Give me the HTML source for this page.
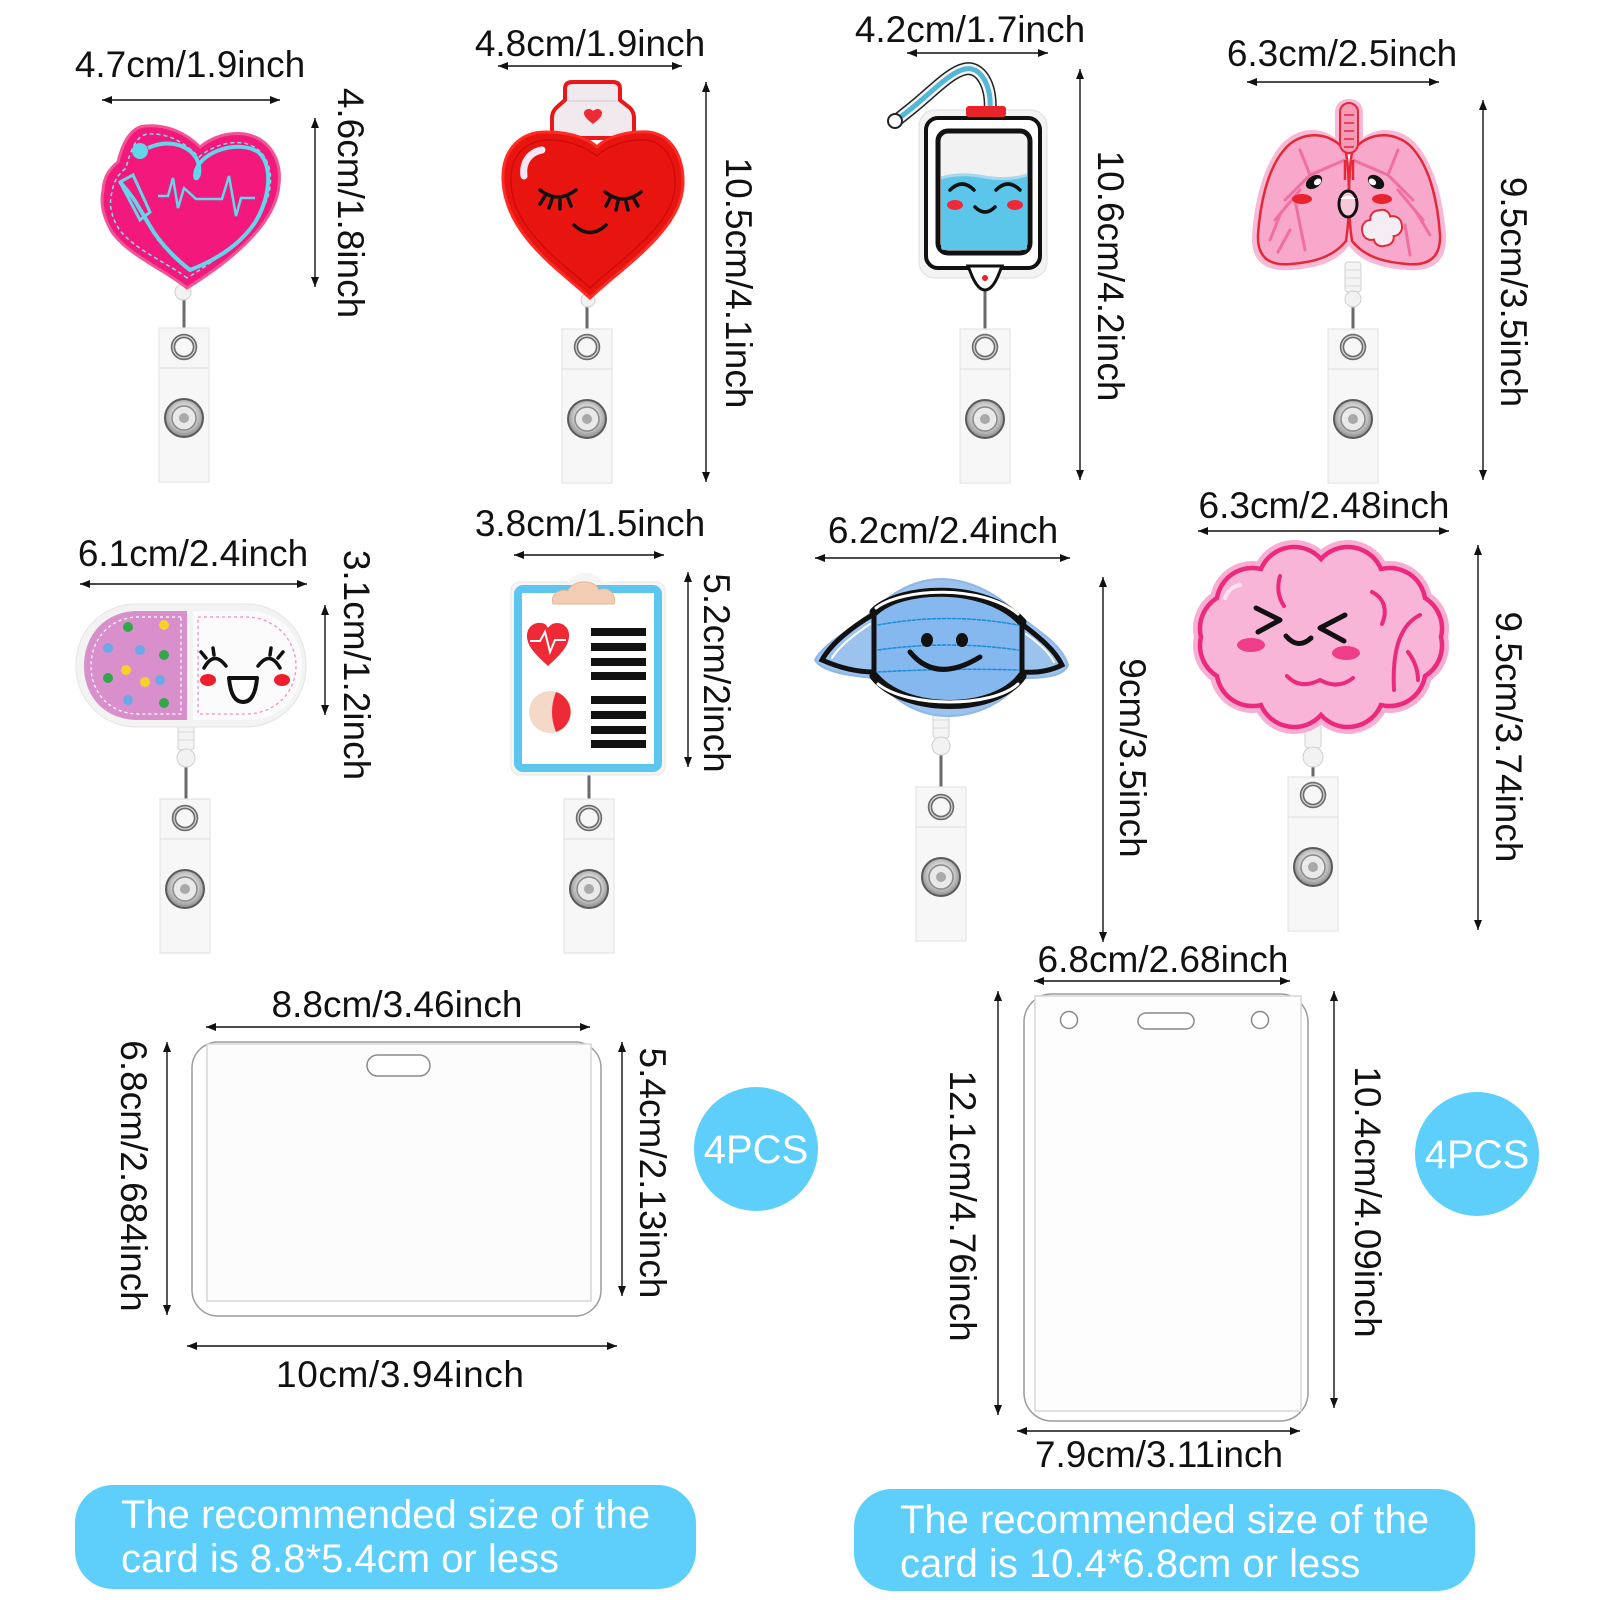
<!DOCTYPE html>
<html><head><meta charset="utf-8">
<style>
html,body{margin:0;padding:0;background:#fff;}
svg{display:block;}
.d{font-family:"Liberation Sans",Arial,sans-serif;font-size:37px;fill:#111;}
.w{font-family:"Liberation Sans",Arial,sans-serif;font-size:40px;fill:#fff;}
.ln{stroke:#111;stroke-width:1.4;fill:none;marker-start:url(#ar);marker-end:url(#ar);}
</style></head>
<body>
<svg width="1600" height="1600" viewBox="0 0 1600 1600" xmlns="http://www.w3.org/2000/svg">
<defs>
<marker id="ar" viewBox="0 0 10 8" refX="10" refY="4" markerWidth="10" markerHeight="8" markerUnits="userSpaceOnUse" orient="auto-start-reverse"><path d="M0,0 L10,4 L0,8 Z" fill="#111"/></marker>
<radialGradient id="snap" cx="50%" cy="45%" r="55%"><stop offset="0" stop-color="#f4f4f4"/><stop offset="0.6" stop-color="#cfcfcf"/><stop offset="1" stop-color="#8a8a8a"/></radialGradient>
<g id="clip">
<rect x="-25" y="0" width="50" height="154" fill="#f7f7f7" stroke="#e4e4e4" stroke-width="1.2"/>
<line x1="-25" y1="40" x2="25" y2="40" stroke="#e2e2e2" stroke-width="1.2"/>
<circle cx="0" cy="90" r="19" fill="url(#snap)" stroke="#5a5a5a" stroke-width="2"/>
<circle cx="0" cy="90" r="12" fill="#e9e9e9" stroke="#8a8a8a" stroke-width="1.5"/>
<circle cx="0" cy="90" r="5" fill="#a9a9a9"/>
</g>
<g id="ring">
<circle cx="0" cy="0" r="11" fill="none" stroke="#6d6d6d" stroke-width="4.5"/>
<circle cx="0" cy="0" r="11" fill="none" stroke="#d8d8d8" stroke-width="1.2"/>
</g>
</defs>

<!-- ===================== ROW 1 ===================== -->
<!-- Badge 1 : pink heart -->
<line x1="184" y1="292" x2="184" y2="340" stroke="#6a6a6a" stroke-width="3"/>
<use href="#clip" x="184" y="328"/>
<use href="#ring" x="184" y="347"/>
<circle cx="183" cy="292" r="8" fill="#f2f2f2" stroke="#cfcfcf"/>
<path d="M187,288 C165,270 128,255 112,232 C104,218 100,205 103,190 C104,178 108,170 118,162 C122,145 130,127 145,126 C165,124 185,132 200,147 C212,137 228,132 245,134 C268,138 282,158 279,185 C276,220 240,255 187,288 Z" fill="#f2187c" stroke="#f25595" stroke-width="3"/>
<path d="M187,278 C168,263 133,249 119,229 C110,215 109,202 112,192 C114,180 118,175 126,168 C130,152 136,135 148,134 C166,133 182,140 199,157 C212,146 228,141 244,143 C263,147 273,165 270,187 C266,218 235,249 187,278 Z" fill="none" stroke="#7fe0ef" stroke-width="1.5" stroke-dasharray="4 3"/>
<path d="M148,148 C170,138 192,146 198,162 C203,178 192,185 196,170 C203,150 240,140 258,152 C274,165 270,200 254,224 C236,250 206,264 190,270 C172,256 158,240 150,226 L138,206 C132,195 125,188 120,182" fill="none" stroke="#62d6ea" stroke-width="4"/>
<path d="M120,182 L133,175 L150,212 L140,220 Z" fill="none" stroke="#62d6ea" stroke-width="3"/>
<circle cx="140" cy="151" r="8" fill="#62d6ea"/>
<path d="M158,196 L168,196 L173,178 L178,208 L184,188 L196,199 L222,199 L229,176 L236,216 L241,198 L255,198" fill="none" stroke="#62d6ea" stroke-width="2.5"/>
<line class="ln" x1="102" y1="100" x2="280" y2="100"/>
<line class="ln" x1="315" y1="118" x2="315" y2="287"/>
<text class="d" x="190" y="77" text-anchor="middle">4.7cm/1.9inch</text>
<text class="d" transform="translate(338,203) rotate(90)" text-anchor="middle">4.6cm/1.8inch</text>

<!-- Badge 2 : red heart -->
<line x1="587" y1="298" x2="587" y2="340" stroke="#6a6a6a" stroke-width="3"/>
<use href="#clip" x="587" y="329"/>
<use href="#ring" x="587" y="347"/>
<circle cx="588" cy="300" r="7" fill="#f2f2f2" stroke="#cfcfcf"/>
<path d="M572,82 L613,82 Q620,82 620,89 L620,100 L630,108 Q634,112 634,118 L634,138 L552,138 L552,118 Q552,112 556,108 L565,100 L565,89 Q565,82 572,82 Z" fill="#f0eaef" stroke="#e8181a" stroke-width="4"/>
<path d="M568,101 L617,101" stroke="#d9d2d8" stroke-width="1.5"/>
<path d="M593,124 C588,120 584,117 584,113 C584,110 587,109 589,109 C591,109 592,110 593,111 C594,110 596,109 598,109 C600,109 602,111 602,113 C602,117 598,120 593,124 Z" fill="#ee2a36"/>
<path d="M590,298 C560,270 505,235 503,180 C502,150 520,131 548,132 C572,132 590,140 597,147 C605,138 625,131 648,132 C670,134 684,155 683,185 C681,230 625,265 590,298 Z" fill="#e81410" stroke="#ff2b24" stroke-width="3"/>
<path d="M590,288 C563,263 512,230 511,182 C510,155 526,140 549,140 C570,140 586,148 597,156 C607,146 626,139 646,140 C664,142 676,160 675,186 C673,226 622,258 590,288 Z" fill="none" stroke="#c80a0a" stroke-width="1.2"/>
<path d="M524,176 C522,162 530,152 542,150" fill="none" stroke="#f4e6f2" stroke-width="7" stroke-linecap="round"/>
<g fill="none" stroke="#111" stroke-width="3.5" stroke-linecap="round">
<path d="M540,190 Q558,204 576,190"/>
<path d="M545,196 L540,204 M552,199 L549,208 M560,200 L560,209 M568,198 L571,206"/>
<path d="M605,192 Q623,206 641,192"/>
<path d="M610,198 L606,206 M618,201 L616,210 M626,202 L628,210 M634,199 L638,206"/>
<path d="M574,225 Q590,240 606,225"/>
</g>
<line class="ln" x1="498" y1="66" x2="682" y2="66"/>
<line class="ln" x1="706" y1="82" x2="706" y2="482"/>
<text class="d" x="590" y="56" text-anchor="middle">4.8cm/1.9inch</text>
<text class="d" transform="translate(726,283) rotate(90)" text-anchor="middle">10.5cm/4.1inch</text>

<!-- Badge 3 : IV bag -->
<line x1="985" y1="290" x2="985" y2="340" stroke="#6a6a6a" stroke-width="3"/>
<use href="#clip" x="985" y="329"/>
<use href="#ring" x="985" y="347"/>
<path d="M990,112 C992,84 980,66 965,69 C950,72 932,92 912,108 L897,120" fill="none" stroke="#222" stroke-width="13" stroke-linecap="round"/>
<path d="M990,112 C992,84 980,66 965,69 C950,72 932,92 912,108 L897,120" fill="none" stroke="#f4f4f4" stroke-width="10" stroke-linecap="round"/>
<path d="M990,112 C992,84 980,66 965,69 C950,72 932,92 912,108 L897,120" fill="none" stroke="#52b8d6" stroke-width="5"/>
<circle cx="895" cy="121" r="7" fill="#fff" stroke="#222" stroke-width="2"/>
<rect x="919" y="110" width="128" height="168" rx="16" fill="#f3f3f3" stroke="#dedede"/>
<rect x="926" y="118" width="114" height="150" rx="12" fill="#fff" stroke="#111" stroke-width="4"/>
<rect x="966" y="106" width="40" height="11" rx="3" fill="#e8242a"/>
<rect x="938" y="131" width="92" height="122" rx="10" fill="#f2f2f2" stroke="#111" stroke-width="5"/>
<path d="M941,178 Q960,172 985,177 Q1008,181 1027,175 L1027,248 Q1027,250 1024,250 L944,250 Q941,250 941,247 Z" fill="#5cc6ea"/>
<path d="M941,178 Q960,172 985,177 Q1008,181 1027,175" fill="none" stroke="#a9d8ee" stroke-width="3"/>
<path d="M968,266 L1002,266 L998,276 Q992,290 985,290 Q978,290 972,276 Z" fill="#fff" stroke="#111" stroke-width="3"/>
<circle cx="985" cy="278" r="3" fill="#e8242a"/>
<g fill="none" stroke="#111" stroke-width="3.5" stroke-linecap="round">
<path d="M950,190 Q962,178 974,190"/><path d="M996,190 Q1008,178 1020,190"/>
<path d="M975,207 Q985,217 995,207"/>
</g>
<ellipse cx="955" cy="205" rx="8" ry="5" fill="#ee2a3a"/>
<ellipse cx="1015" cy="205" rx="8" ry="5" fill="#ee2a3a"/>
<line class="ln" x1="907" y1="53" x2="1048" y2="53"/>
<line class="ln" x1="1080" y1="69" x2="1080" y2="480"/>
<text class="d" x="970" y="42" text-anchor="middle">4.2cm/1.7inch</text>
<text class="d" transform="translate(1098,276) rotate(90)" text-anchor="middle">10.6cm/4.2inch</text>

<!-- Badge 4 : lungs -->
<line x1="1353" y1="298" x2="1353" y2="340" stroke="#6a6a6a" stroke-width="3"/>
<use href="#clip" x="1353" y="329"/>
<use href="#ring" x="1353" y="347"/>
<rect x="1345" y="262" width="16" height="30" rx="3" fill="#f4f4f4" stroke="#d2d2d2"/>
<path d="M1345,270 L1361,270 M1345,278 L1361,278 M1345,286 L1361,286" stroke="#d8d8d8"/>
<circle cx="1353" cy="299" r="8" fill="#f2f2f2" stroke="#cfcfcf"/>
<rect x="1335" y="99" width="28" height="56" rx="13" fill="#f7b9d5"/>
<g fill="#f7b9d5">
<path d="M1346,150 C1330,124 1298,124 1280,146 C1262,168 1254,205 1252,236 C1251,262 1266,272 1291,270 C1318,268 1338,262 1350,244 C1354,215 1354,175 1346,150 Z"/>
<path d="M1352,150 C1368,124 1400,124 1418,146 C1436,168 1444,205 1446,236 C1447,262 1432,272 1407,270 C1380,268 1360,262 1348,244 C1344,215 1344,175 1352,150 Z"/>
</g>
<path d="M1346,152 C1331,130 1300,130 1284,150 C1267,170 1260,205 1258,235 C1257,258 1270,266 1291,264 C1316,262 1334,256 1346,241 C1350,215 1350,178 1346,152 Z" fill="#f8a8cb" stroke="#e3283a" stroke-width="2.5"/>
<path d="M1352,152 C1367,130 1398,130 1414,150 C1431,170 1438,205 1440,235 C1441,258 1428,266 1407,264 C1382,262 1364,256 1352,241 C1348,215 1348,178 1352,152 Z" fill="#f8a8cb" stroke="#e3283a" stroke-width="2.5"/>
<rect x="1340" y="103" width="18" height="50" rx="9" fill="#f59ab7" stroke="#e3283a" stroke-width="2"/>
<g fill="none" stroke="#e3283a" stroke-width="1.5"><path d="M1344,115 h10 M1344,123 h10 M1344,131 h10 M1344,139 h10 M1344,147 h10"/></g>
<g fill="none" stroke="#ee6fa0" stroke-width="3" stroke-linecap="round">
<path d="M1345,160 L1310,175 L1285,200 M1310,175 L1300,150 M1300,190 L1275,220 M1295,200 L1305,250 M1280,215 L1270,240 M1290,230 L1278,252"/>
<path d="M1353,160 L1388,175 L1413,200 M1388,175 L1398,150 M1398,190 L1423,220 M1415,210 L1430,235 M1405,225 L1410,255"/>
</g>
<path d="M1345,160 L1345,180 M1353,160 L1353,180" stroke="#e3283a" stroke-width="2.5"/>
<g transform="rotate(-35 1314 182)"><ellipse cx="1314" cy="182" rx="9" ry="6" fill="#111"/><ellipse cx="1317" cy="184" rx="4" ry="3" fill="#fff"/></g>
<g transform="rotate(35 1376 182)"><ellipse cx="1376" cy="182" rx="9" ry="6" fill="#111"/><ellipse cx="1373" cy="184" rx="4" ry="3" fill="#fff"/></g>
<ellipse cx="1302" cy="199" rx="10" ry="5" fill="#e8242e"/>
<ellipse cx="1382" cy="199" rx="10" ry="5" fill="#e8242e"/>
<ellipse cx="1348" cy="204" rx="9" ry="13" fill="#f6c8d8" stroke="#111" stroke-width="3"/>
<path d="M1340,199 Q1348,193 1356,199" fill="#fff"/>
<g transform="rotate(-10 1382 228)"><rect x="1362" y="218" width="40" height="20" rx="9" fill="#f4eef4" stroke="#e3283a" stroke-width="2"/><rect x="1372" y="210" width="20" height="36" rx="8" fill="#f4eef4" stroke="#e3283a" stroke-width="2"/><rect x="1363" y="219" width="38" height="18" rx="8" fill="#f4eef4"/></g>
<line class="ln" x1="1247" y1="82" x2="1439" y2="82"/>
<line class="ln" x1="1483" y1="100" x2="1483" y2="480"/>
<text class="d" x="1342" y="66" text-anchor="middle">6.3cm/2.5inch</text>
<text class="d" transform="translate(1501,292) rotate(90)" text-anchor="middle">9.5cm/3.5inch</text>

<!-- ===================== ROW 2 ===================== -->
<!-- Badge 5 : pill -->
<line x1="186" y1="760" x2="186" y2="811" stroke="#6a6a6a" stroke-width="3"/>
<use href="#clip" x="185" y="799"/>
<use href="#ring" x="185" y="818"/>
<rect x="178" y="724" width="16" height="26" rx="3" fill="#f4f4f4" stroke="#d2d2d2"/>
<path d="M178,732 L194,732 M178,740 L194,740" stroke="#d8d8d8"/>
<circle cx="186" cy="758" r="9" fill="#f2f2f2" stroke="#cfcfcf"/>
<rect x="76" y="604" width="230" height="123" rx="60" fill="#f3f3f3" stroke="#e4e4e4"/>
<path d="M187,611 L138,611 C105,611 84,635 84,666 C84,697 105,720 138,720 L187,720 Z" fill="#d98fcb"/>
<path d="M181,617 L139,617 C110,617 91,639 91,666 C91,693 110,714 139,714 L181,714 Z" fill="none" stroke="#fff" stroke-width="1.3" stroke-dasharray="3 3"/>
<path d="M193,611 L248,611 C280,611 302,635 302,666 C302,697 280,720 248,720 L193,720 Z" fill="#fbfbfb"/>
<path d="M198,617 L246,617 C274,617 296,639 296,666 C296,693 274,714 246,714 L198,714 Z" fill="none" stroke="#f08cc8" stroke-width="1.3" stroke-dasharray="3 3"/>
<g>
<circle cx="128" cy="627" r="5" fill="#2ea84a"/><circle cx="164" cy="625" r="5" fill="#f4d22a"/>
<circle cx="108" cy="648" r="5" fill="#6aa9e8"/><circle cx="140" cy="650" r="5" fill="#6aa9e8"/>
<circle cx="164" cy="655" r="5" fill="#2ea84a"/><circle cx="108" cy="678" r="5" fill="#2ea84a"/>
<circle cx="126" cy="670" r="5" fill="#f4d22a"/><circle cx="145" cy="682" r="5" fill="#f4d22a"/>
<circle cx="160" cy="680" r="5" fill="#6aa9e8"/><circle cx="128" cy="700" r="5" fill="#6aa9e8"/>
<circle cx="164" cy="703" r="5" fill="#2ea84a"/>
</g>
<g fill="none" stroke="#111" stroke-width="3.5" stroke-linecap="round">
<path d="M204,668 Q214,650 226,666"/><path d="M206,658 L201,652 M214,655 L213,648"/>
<path d="M258,666 Q270,650 280,668"/><path d="M278,658 L283,652 M270,655 L271,648"/>
</g>
<ellipse cx="208" cy="680" rx="8" ry="6" fill="#f01e2c"/>
<ellipse cx="282" cy="680" rx="8" ry="6" fill="#f01e2c"/>
<path d="M229,678 L257,678 Q255,702 243,702 Q231,702 229,678 Z" fill="#fff" stroke="#111" stroke-width="4" stroke-linejoin="round"/>
<line class="ln" x1="80" y1="584" x2="307" y2="584"/>
<line class="ln" x1="325" y1="605" x2="325" y2="715"/>
<text class="d" x="193" y="566" text-anchor="middle">6.1cm/2.4inch</text>
<text class="d" transform="translate(344,665) rotate(90)" text-anchor="middle">3.1cm/1.2inch</text>

<!-- Badge 6 : clipboard -->
<line x1="589" y1="770" x2="589" y2="811" stroke="#6a6a6a" stroke-width="3"/>
<use href="#clip" x="589" y="799"/>
<use href="#ring" x="589" y="818"/>
<rect x="511" y="582" width="154" height="193" rx="9" fill="#f5f5f5" stroke="#e6e6e6"/>
<path d="M548,602 C545,588 556,582 566,586 C572,570 596,568 602,582 C614,578 622,592 618,602 Z" fill="#f5f5f5"/>
<rect x="518" y="589" width="140" height="179" rx="5" fill="#fff" stroke="#5cc6ee" stroke-width="8"/>
<path d="M553,604 C550,594 560,588 568,591 C572,580 594,578 599,590 C609,586 617,595 614,604 Z" fill="#f3cdb3" stroke="#e7b798"/>
<path d="M548,666 C535,654 527,646 527,636 C527,627 534,622 541,623 C545,623 547,626 548,628 C550,625 553,623 557,623 C565,623 570,630 569,637 C568,647 560,655 548,666 Z" fill="#ee2a36"/>
<path d="M530,641 L540,641 L545,632 L550,652 L555,640 L566,640" fill="none" stroke="#fff" stroke-width="2"/>
<circle cx="550" cy="712" r="21" fill="#f4d8c8"/>
<path d="M556,692 A21,21 0 0 1 556,732 Q548,712 556,692 Z" fill="#ee2a36"/>
<g fill="#111">
<rect x="591" y="628" width="55" height="8"/><rect x="591" y="643" width="55" height="8"/>
<rect x="591" y="658" width="55" height="8"/><rect x="591" y="672" width="55" height="8"/>
<rect x="591" y="696" width="55" height="8"/><rect x="591" y="711" width="55" height="8"/>
<rect x="591" y="726" width="55" height="8"/><rect x="591" y="740" width="55" height="8"/>
</g>
<line class="ln" x1="514" y1="555" x2="664" y2="555"/>
<line class="ln" x1="688" y1="572" x2="688" y2="767"/>
<text class="d" x="590" y="536" text-anchor="middle">3.8cm/1.5inch</text>
<text class="d" transform="translate(704,673) rotate(90)" text-anchor="middle">5.2cm/2inch</text>

<!-- Badge 7 : mask -->
<line x1="941" y1="746" x2="941" y2="800" stroke="#6a6a6a" stroke-width="3"/>
<use href="#clip" x="941" y="787"/>
<use href="#ring" x="941" y="807"/>
<rect x="933" y="712" width="16" height="26" rx="3" fill="#f4f4f4" stroke="#d2d2d2"/>
<path d="M933,720 L949,720 M933,728 L949,728" stroke="#d8d8d8"/>
<circle cx="941" cy="746" r="9" fill="#f2f2f2" stroke="#cfcfcf"/>
<path d="M815,660 C822,645 850,630 872,612 C892,592 915,579 942,579 C975,580 1002,598 1022,618 C1040,632 1062,645 1068,665 C1064,676 1045,678 1024,678 C1005,702 978,716 948,716 C918,716 893,700 876,678 C850,676 822,672 815,660 Z" fill="#9cc2ee" stroke="#8fb6e6" stroke-width="2"/>
<path d="M874,612 C900,586 985,582 1022,622 L1022,676 C995,714 905,714 874,676 Z" fill="#86b8f0"/>
<g fill="none" stroke-linecap="round">
<path d="M874,612 C900,586 985,582 1022,622" stroke="#111" stroke-width="9"/>
<path d="M876,608 C902,588 982,584 1018,614" stroke="#fff" stroke-width="3"/>
<path d="M874,676 C905,714 995,714 1022,676" stroke="#111" stroke-width="9"/>
<path d="M878,684 C908,708 992,708 1018,684" stroke="#fff" stroke-width="3"/>
<path d="M874,612 L874,676 M1022,622 L1022,676" stroke="#111" stroke-width="5"/>
<path d="M874,614 C850,628 830,645 822,660 C840,668 858,672 874,672" stroke="#111" stroke-width="5"/>
<path d="M1022,624 C1040,638 1055,650 1062,665 C1048,672 1035,673 1022,672" stroke="#111" stroke-width="5"/>
<path d="M870,624 C852,636 838,648 832,658" stroke="#fff" stroke-width="2"/>
<path d="M1026,634 C1040,644 1050,654 1054,662" stroke="#fff" stroke-width="2"/>
<path d="M878,625 Q948,612 1018,625 M878,650 Q948,640 1018,650 M878,672 Q948,668 1018,670" stroke="#1e8fd8" stroke-width="1.6" stroke-dasharray="3 2"/>
</g>
<ellipse cx="927" cy="640" rx="6" ry="7" fill="#111"/>
<ellipse cx="962" cy="640" rx="6" ry="7" fill="#111"/>
<path d="M910,652 Q936,684 980,657" fill="none" stroke="#111" stroke-width="5" stroke-linecap="round"/>
<line class="ln" x1="815" y1="558" x2="1070" y2="558"/>
<line class="ln" x1="1103" y1="577" x2="1103" y2="942"/>
<text class="d" x="943" y="543" text-anchor="middle">6.2cm/2.4inch</text>
<text class="d" transform="translate(1120,758) rotate(90)" text-anchor="middle">9cm/3.5inch</text>

<!-- Badge 8 : brain -->
<line x1="1313" y1="757" x2="1313" y2="789" stroke="#6a6a6a" stroke-width="3"/>
<use href="#clip" x="1313" y="777"/>
<use href="#ring" x="1313" y="795"/>
<rect x="1305" y="724" width="16" height="24" rx="3" fill="#f4f4f4" stroke="#d2d2d2"/>
<circle cx="1313" cy="757" r="10" fill="#f2f2f2" stroke="#cfcfcf"/>
<path d="M1441,637 A36,36 0 0 1 1425,676 A36,36 0 0 1 1381,705 A36,36 0 0 1 1321,715 A36,36 0 0 1 1261,705 A36,36 0 0 1 1217,676 A36,36 0 0 1 1201,637 A36,36 0 0 1 1217,598 A36,36 0 0 1 1261,569 A36,36 0 0 1 1321,559 A36,36 0 0 1 1381,569 A36,36 0 0 1 1425,598 A36,36 0 0 1 1441,637 Z" fill="#f9b5d8" stroke="#f8aed2" stroke-width="14"/>
<path d="M1441,637 A36,36 0 0 1 1425,676 A36,36 0 0 1 1381,705 A36,36 0 0 1 1321,715 A36,36 0 0 1 1261,705 A36,36 0 0 1 1217,676 A36,36 0 0 1 1201,637 A36,36 0 0 1 1217,598 A36,36 0 0 1 1261,569 A36,36 0 0 1 1321,559 A36,36 0 0 1 1381,569 A36,36 0 0 1 1425,598 A36,36 0 0 1 1441,637 Z" fill="#f9b5d8" stroke="#ec2a7d" stroke-width="4.5"/>
<g fill="none" stroke="#ec2a7d" stroke-width="4" stroke-linecap="round">
<path d="M1280,576 C1276,590 1280,600 1284,606"/>
<path d="M1372,592 C1384,598 1388,610 1382,624"/>
<path d="M1420,615 C1400,625 1392,650 1394,690"/>
<path d="M1408,652 C1414,660 1418,670 1418,680"/>
<path d="M1287,676 Q1300,690 1320,680 Q1338,690 1353,678"/>
</g>
<path d="M1225,598 C1228,590 1234,586 1240,585" fill="none" stroke="#fbe4f0" stroke-width="4" stroke-linecap="round"/>
<g fill="none" stroke="#111" stroke-width="5" stroke-linecap="round" stroke-linejoin="round">
<path d="M1256,608 L1280,620 L1258,632"/>
<path d="M1345,615 L1320,628 L1344,641"/>
<path d="M1286,636 Q1298,650 1311,638"/>
</g>
<ellipse cx="1251" cy="645" rx="14" ry="7" fill="#ef3d8a"/>
<ellipse cx="1346" cy="653" rx="14" ry="7" fill="#ef3d8a"/>
<line class="ln" x1="1198" y1="531" x2="1449" y2="531"/>
<line class="ln" x1="1478" y1="545" x2="1478" y2="930"/>
<text class="d" x="1324" y="518" text-anchor="middle">6.3cm/2.48inch</text>
<text class="d" transform="translate(1496,737) rotate(90)" text-anchor="middle">9.5cm/3.74inch</text>

<!-- ===================== ROW 3 : cards ===================== -->
<!-- Card 1 -->
<rect x="192" y="1042" width="409" height="274" rx="26" fill="#fff" stroke="#9c9c9c" stroke-width="1.5"/>
<rect x="207" y="1044" width="384" height="257" fill="#fcfcfc" stroke="#d6d6d6" stroke-width="1.5"/>
<rect x="367" y="1055" width="63" height="21" rx="10.5" fill="#fff" stroke="#8a8a8a" stroke-width="1.5"/>
<line class="ln" x1="206" y1="1027" x2="590" y2="1027"/>
<line class="ln" x1="167" y1="1042" x2="167" y2="1315"/>
<line class="ln" x1="622" y1="1042" x2="622" y2="1296"/>
<line class="ln" x1="187" y1="1346" x2="617" y2="1346"/>
<text class="d" x="397" y="1017" text-anchor="middle">8.8cm/3.46inch</text>
<text class="d" x="400" y="1387" text-anchor="middle" textLength="248">10cm/3.94inch</text>
<text class="d" transform="translate(121,1176) rotate(90)" text-anchor="middle">6.8cm/2.684inch</text>
<text class="d" transform="translate(640,1173) rotate(90)" text-anchor="middle">5.4cm/2.13inch</text>
<circle cx="756" cy="1149" r="62" fill="#5ecffa"/>
<text class="w" x="756" y="1163" text-anchor="middle">4PCS</text>

<!-- Card 2 -->
<rect x="1024" y="994" width="284" height="427" rx="28" fill="#fff" stroke="#9c9c9c" stroke-width="1.5"/>
<rect x="1035" y="996" width="266" height="415" fill="#fdfdfd" stroke="#d6d6d6" stroke-width="1.5"/>
<circle cx="1069" cy="1020" r="8.5" fill="#fff" stroke="#8a8a8a" stroke-width="1.5"/>
<circle cx="1260" cy="1020" r="8.5" fill="#fff" stroke="#8a8a8a" stroke-width="1.5"/>
<rect x="1138" y="1013" width="56" height="16" rx="8" fill="#fff" stroke="#8a8a8a" stroke-width="1.5"/>
<line class="ln" x1="1034" y1="981" x2="1290" y2="981"/>
<line class="ln" x1="998" y1="991" x2="998" y2="1415"/>
<line class="ln" x1="1334" y1="991" x2="1334" y2="1408"/>
<line class="ln" x1="1017" y1="1431" x2="1300" y2="1431"/>
<text class="d" x="1163" y="972" text-anchor="middle">6.8cm/2.68inch</text>
<text class="d" x="1159" y="1467" text-anchor="middle">7.9cm/3.11inch</text>
<text class="d" transform="translate(950,1206) rotate(90)" text-anchor="middle">12.1cm/4.76inch</text>
<text class="d" transform="translate(1355,1202) rotate(90)" text-anchor="middle">10.4cm/4.09inch</text>
<circle cx="1477" cy="1154" r="62" fill="#5ecffa"/>
<text class="w" x="1477" y="1168" text-anchor="middle">4PCS</text>

<!-- Bottom info boxes -->
<rect x="75" y="1485" width="621" height="104" rx="38" fill="#5ecffa"/>
<text class="w" x="121" y="1528">The recommended size of the</text>
<text class="w" x="121" y="1572">card is 8.8*5.4cm or less</text>
<rect x="854" y="1489" width="621" height="102" rx="38" fill="#5ecffa"/>
<text class="w" x="900" y="1533">The recommended size of the</text>
<text class="w" x="900" y="1577">card is 10.4*6.8cm or less</text>
</svg>
</body></html>
